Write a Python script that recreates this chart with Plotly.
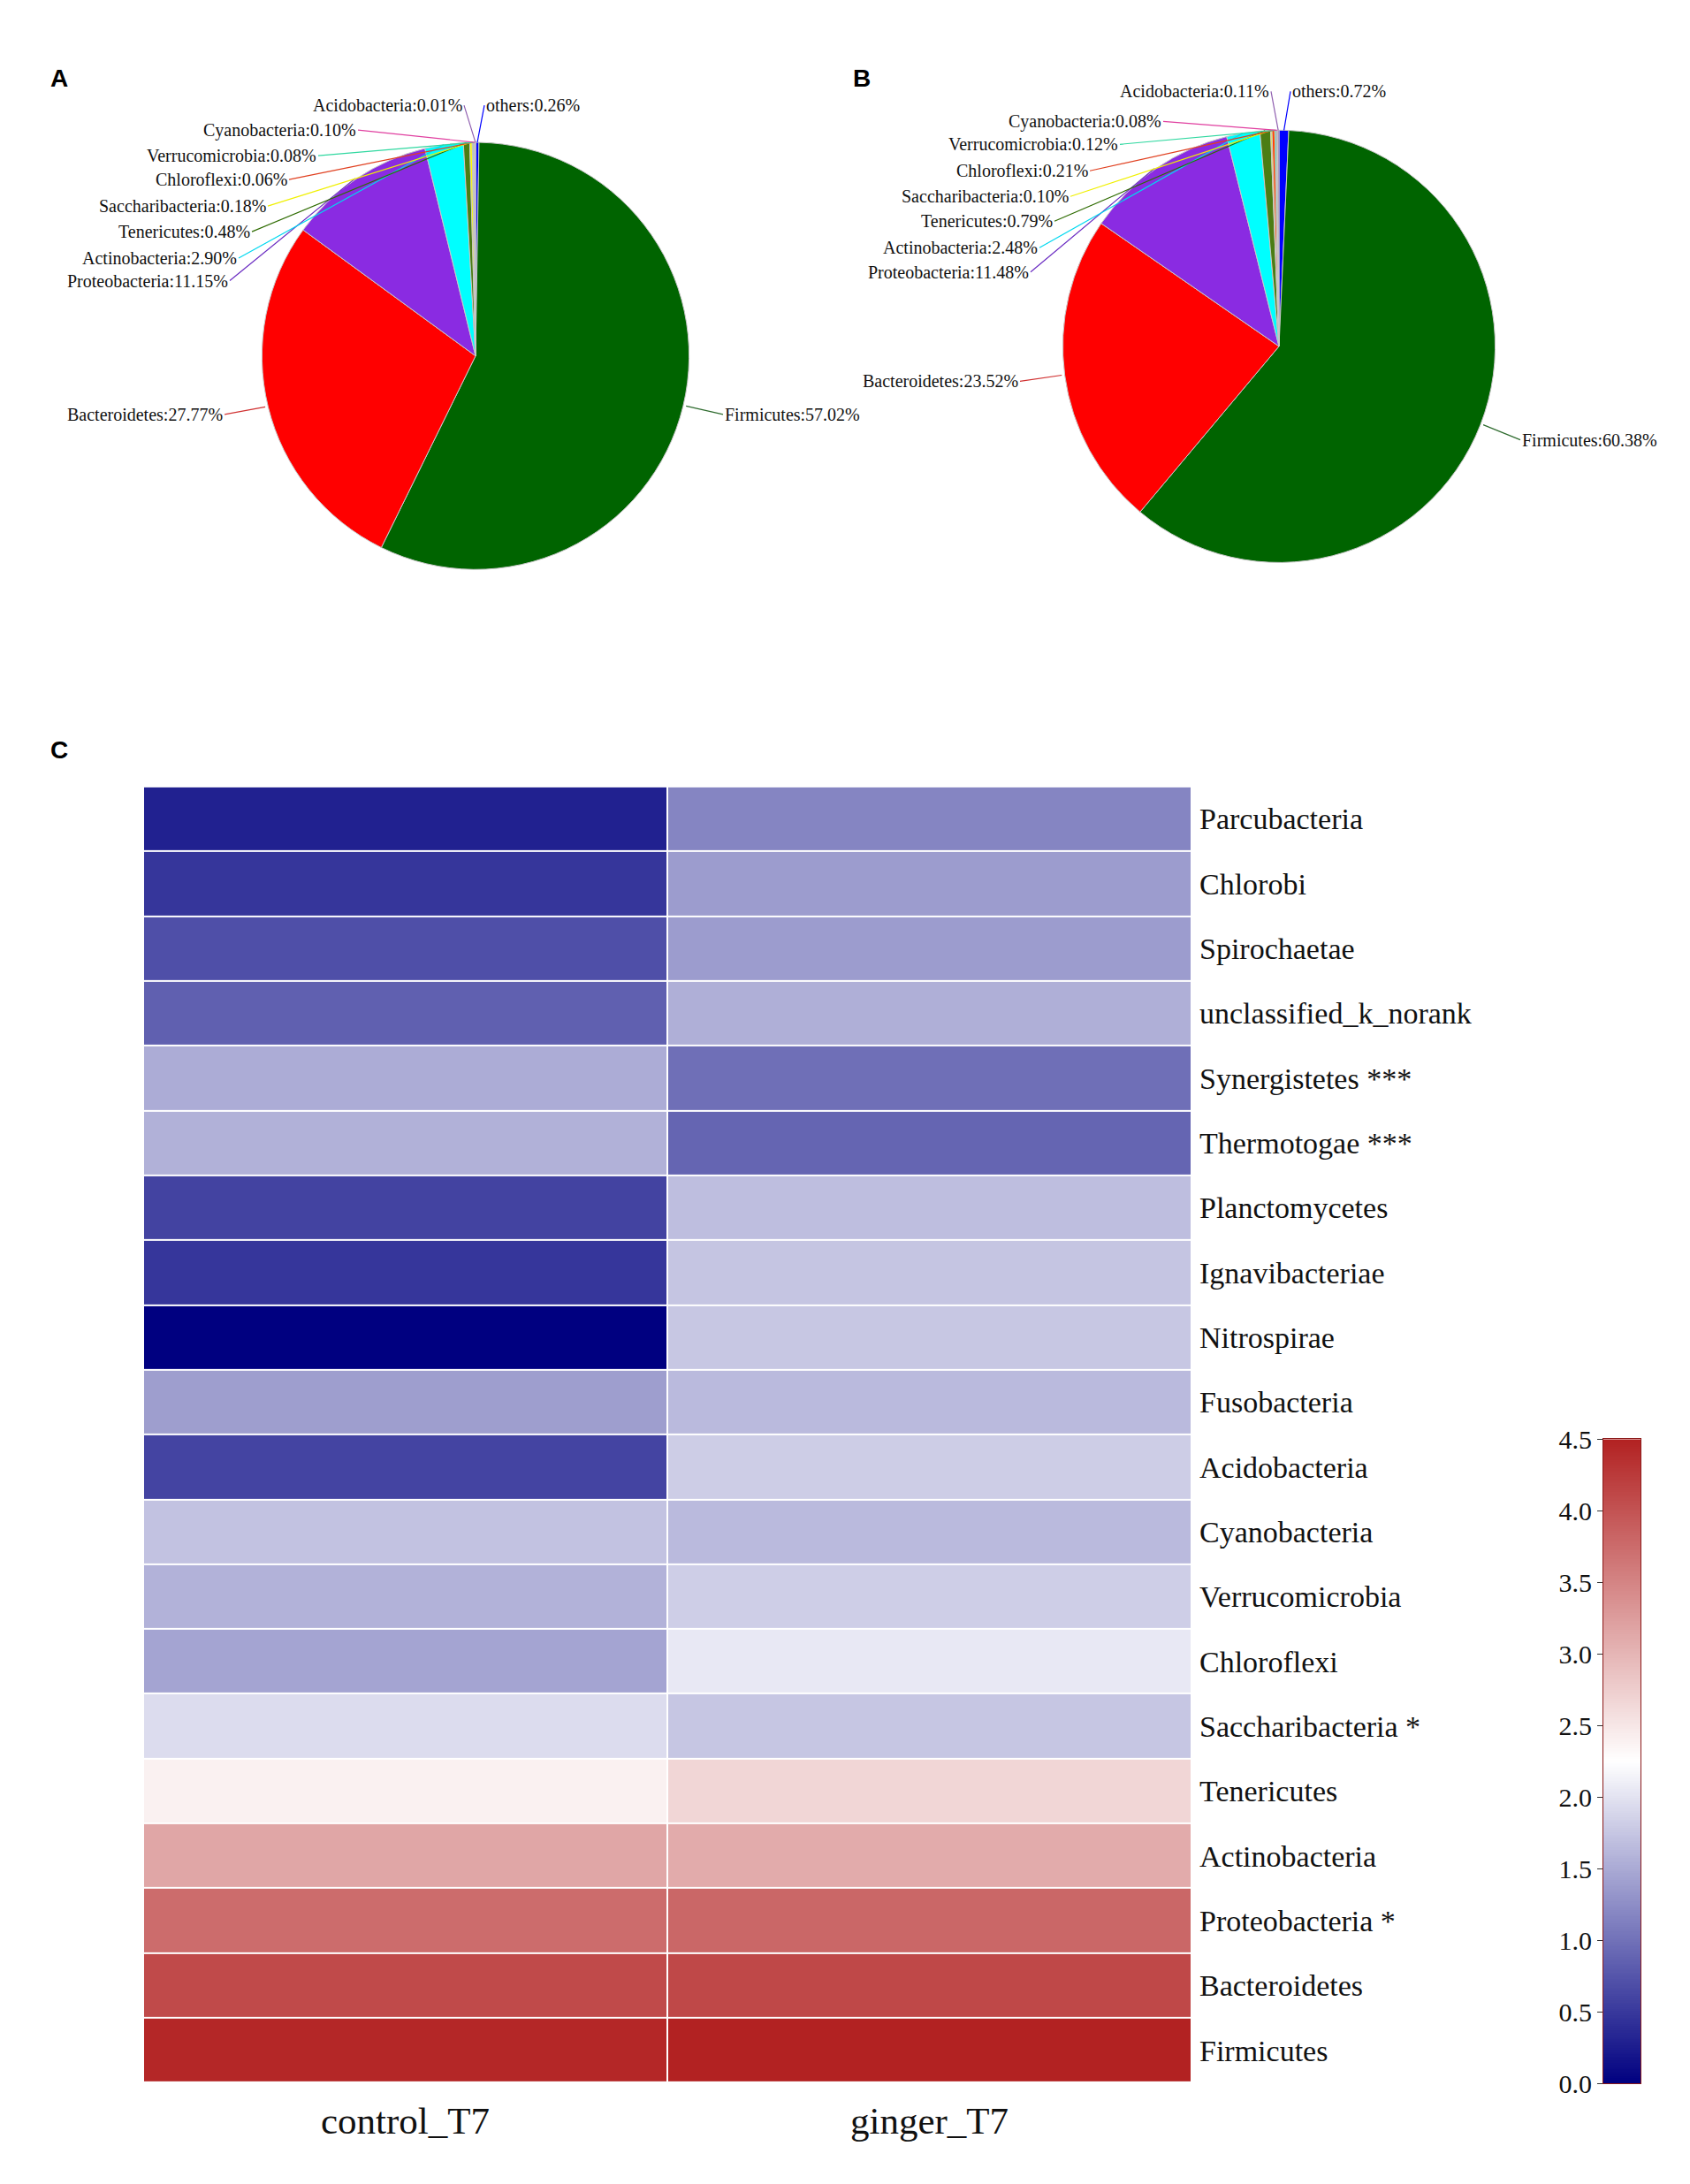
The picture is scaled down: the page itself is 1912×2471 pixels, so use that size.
import math
import numpy as np
import plotly.graph_objects as go

# the page body keeps its default 8px margin, so the figure is drawn 8px in from the window edge
OFF = 8
W, H = 1912 - 2 * OFF, 2471 - 2 * OFF

# Pie data (clockwise order starting at 12 o'clock)
phyla_pie = ['others', 'Firmicutes', 'Bacteroidetes', 'Proteobacteria', 'Actinobacteria', 'Tenericutes',
             'Saccharibacteria', 'Chloroflexi', 'Verrucomicrobia', 'Cyanobacteria', 'Acidobacteria']
pie_a_values = [0.26, 57.02, 27.77, 11.15, 2.90, 0.48, 0.18, 0.06, 0.08, 0.10, 0.01]
pie_b_values = [0.72, 60.38, 23.52, 11.48, 2.48, 0.79, 0.10, 0.21, 0.12, 0.08, 0.11]
pie_colors = ['#0000FF', '#006400', '#FF0000', '#8A2BE2', '#00FFFF', '#4B7D14',
              '#FFFF00', '#FF4500', '#30D8A0', '#E040A0', '#9060B0']
line_colors = ['#0000FF', '#2E6B2E', '#D03030', '#6A2BC2', '#00D8F0', '#2E6B00',
               '#F0F000', '#E04020', '#30D8A0', '#E040A0', '#9060B0']

# Heatmap data (log abundance), top row first
heat_rows = ['Parcubacteria', 'Chlorobi', 'Spirochaetae', 'unclassified_k_norank', 'Synergistetes ***',
             'Thermotogae ***', 'Planctomycetes', 'Ignavibacteriae', 'Nitrospirae', 'Fusobacteria',
             'Acidobacteria', 'Cyanobacteria', 'Verrucomicrobia', 'Chloroflexi', 'Saccharibacteria *',
             'Tenericutes', 'Actinobacteria', 'Proteobacteria *', 'Bacteroidetes', 'Firmicutes']
heat_cols = ['control_T7', 'ginger_T7']
control_T7 = [0.29, 0.48, 0.70, 0.85, 1.52, 1.56, 0.59, 0.48, 0.00, 1.39,
              0.60, 1.71, 1.57, 1.45, 1.94, 2.39, 3.16, 3.75, 4.09, 4.45]
ginger_T7 = [1.17, 1.38, 1.38, 1.54, 0.98, 0.89, 1.68, 1.74, 1.76, 1.64,
             1.81, 1.64, 1.82, 2.05, 1.75, 2.67, 3.11, 3.80, 4.11, 4.50]
cbar_ticks = [0.0, 0.5, 1.0, 1.5, 2.0, 2.5, 3.0, 3.5, 4.0, 4.5]

serif = 'Times New Roman, Liberation Serif, serif'
cscale = [[0.0, '#000080'], [0.5, '#FFFFFF'], [1.0, '#B22222']]


def px(x):   #window pixel -> paper x
    return (x - OFF) / W


def py(y):   #window pixel -> paper y
    return 1 - (y - OFF) / H


fig = go.Figure()

# pie layout (window pixel centre + radius for each panel), label anchor points
pies = [
    dict(values=pie_a_values, cx=538, cy=391, r=245,
         label_pos=[(548, 104), (818, 458), (254, 458), (260, 303), (270, 277), (285, 247),
                    (303, 218), (327, 188), (360, 161), (405, 132), (525, 104)]),
    dict(values=pie_b_values, cx=1447, cy=380, r=248,
         label_pos=[(1460, 88), (1720, 487), (1154, 420), (1166, 293), (1176, 265), (1193, 235),
                    (1211, 207), (1233, 178), (1267, 148), (1316, 122), (1438, 88)]),
]

annotations = []
for p in pies:
    cx, cy, r = p['cx'], p['cy'], p['r']
    fig.add_trace(go.Pie(
        labels=phyla_pie, values=p['values'], sort=False, direction='clockwise', rotation=0,
        marker=dict(colors=pie_colors, line=dict(color='#C8C8C8', width=1)),
        textinfo='none', hoverinfo='label+percent', showlegend=False,
        domain=dict(x=[px(cx - r), px(cx + r)], y=[py(cy + r), py(cy - r)])
    ))
    total = sum(p['values'])
    cum = 0
    for i, v in enumerate(p['values']):
        theta = math.radians(360 * (cum + v / 2) / total)   #mid angle of the slice, clockwise from top
        cum += v
        tx = cx + r * math.sin(theta)
        ty = cy - r * math.cos(theta)
        lx, ly = p['label_pos'][i]
        on_right = lx > cx
        annotations.append(dict(
            x=px(tx), y=py(ty), xref='paper', yref='paper',
            ax=lx - tx, ay=ly - ty, axref='pixel', ayref='pixel',
            text=f"{phyla_pie[i]}:{v:.2f}%", showarrow=True, arrowhead=0, arrowwidth=1.2,
            arrowcolor=line_colors[i], xanchor='left' if on_right else 'right', yanchor='middle',
            font=dict(family=serif, size=20, color='#111111')
        ))

# heatmap (panel C)
z = [[c, g] for c, g in zip(control_T7, ginger_T7)]
fig.add_trace(go.Heatmap(
    z=z, x=heat_cols, y=heat_rows, colorscale=cscale, zmin=0, zmax=4.5,
    xgap=2, ygap=2, showscale=False, xaxis='x', yaxis='y'
))

# colour key drawn as its own narrow heatmap so the labels sit on the left
scale_steps = np.linspace(0, 4.5, 300)
fig.add_trace(go.Heatmap(
    z=[[s] for s in scale_steps], x=[0], y=scale_steps, colorscale=cscale, zmin=0, zmax=4.5,
    showscale=False, xaxis='x2', yaxis='y2', hoverinfo='skip'
))

for letter, lx, ly in [('A', 55, 55), ('B', 975, 55), ('C', 55, 843)]:
    annotations.append(dict(x=px(lx), y=py(ly), xref='paper', yref='paper', text=f"<b>{letter}</b>",
                            showarrow=False, font=dict(family='Arial, Liberation Sans, sans-serif', size=28, color='black')))

fig.update_layout(
    width=W, height=H, margin=dict(l=0, r=0, t=0, b=0),
    paper_bgcolor='white', plot_bgcolor='white',
    annotations=annotations,
    xaxis=dict(domain=[px(162), px(1348)], anchor='y', showgrid=False, zeroline=False, ticks='',
               tickfont=dict(family=serif, size=43, color='#111111'), ticklabelstandoff=14),
    yaxis=dict(domain=[py(2372), py(885)], anchor='x', side='right', autorange='reversed',
               showgrid=False, zeroline=False, ticks='',
               tickfont=dict(family=serif, size=34, color='#111111'), ticklabelstandoff=8),
    xaxis2=dict(domain=[px(1814), px(1856)], anchor='y2', showticklabels=False, ticks='', showgrid=False,
                zeroline=False, showline=True, mirror=True, linecolor='#8B1A1A', linewidth=1),
    yaxis2=dict(domain=[py(2373), py(1634)], anchor='x2', side='left', range=[0, 4.5],
                tickvals=cbar_ticks, ticktext=[f"{t:.1f}" for t in cbar_ticks], ticks='outside', ticklen=6,
                tickcolor='#333333', showgrid=False, zeroline=False, showline=True, mirror=True,
                linecolor='#8B1A1A', linewidth=1,
                tickfont=dict(family=serif, size=30, color='#111111')),
)

fig.write_html("out.html")
